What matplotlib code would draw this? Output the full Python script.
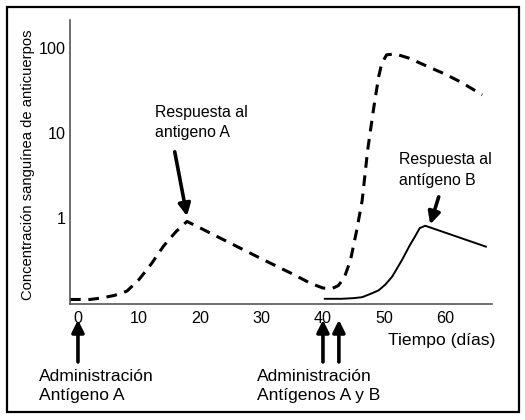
import numpy as np
import matplotlib
matplotlib.use("Agg")
import matplotlib.pyplot as plt
from matplotlib.patches import Rectangle

plt.rcParams['font.family'] = ['Liberation Sans', 'DejaVu Sans']

# respuesta al antigeno A (linea discontinua)
dias_a = [-1.3, 0, 2, 4, 6, 8, 10, 12, 14, 16, 17.8, 20, 25, 30, 35, 38, 40,
          41.5, 42.5, 43.5, 44.5, 45.5, 46.4, 47.3, 48.3, 49.1, 49.6, 50.4,
          51.8, 54, 57.2, 60, 62.7, 66]
conc_a = [0.11, 0.11, 0.11, 0.115, 0.123, 0.138, 0.19, 0.29, 0.47, 0.69, 0.91,
          0.76, 0.50, 0.33, 0.22, 0.17, 0.15, 0.148, 0.16, 0.2, 0.32, 0.71,
          1.6, 6.3, 20, 46, 66, 83, 85, 76, 60, 49, 39, 28]

# respuesta al antigeno B (linea continua)
dias_b = [40.3, 43, 45, 46.4, 48, 49.1, 50.2, 51.3, 52.9, 54.2, 55, 55.8,
          56.7, 66.6]
conc_b = [0.112, 0.112, 0.114, 0.117, 0.13, 0.141, 0.165, 0.204, 0.32, 0.48,
          0.60, 0.76, 0.81, 0.46]

xticks = [0, 10, 20, 30, 40, 50, 60]
yticks = [1, 10, 100]
dias_admin = [0, 40, 42.6]

fig = plt.figure(figsize=(5.25, 4.2), dpi=100)
ax = fig.add_axes([70/525, 1-304/420, (492-70)/525, (304-20)/420])

ax.plot(dias_a, conc_a, color='black', lw=2.2, linestyle=(0, (3.5, 2.5)))
ax.plot(dias_b, conc_b, color='black', lw=1.4)

ax.set_yscale('log')
ax.set_xlim(-1.3, 67.6)
ax.set_ylim(0.0973, 213)
ax.set_xticks(xticks)
ax.set_xticklabels([str(t) for t in xticks])
ax.set_yticks(yticks)
ax.set_yticklabels([str(t) for t in yticks])
ax.minorticks_off()
ax.tick_params(axis='x', length=0, pad=5, labelsize=11.6)
ax.tick_params(axis='y', length=0, pad=3, labelsize=11.6)
for s in ['top', 'right']:
    ax.spines[s].set_visible(False)
for s in ['left', 'bottom']:
    ax.spines[s].set_color('#555555')
    ax.spines[s].set_linewidth(1.2)

flecha = dict(arrowstyle='-|>', lw=2.6, color='black', mutation_scale=18,
              shrinkA=0, shrinkB=0)

ax.annotate('', xy=(17.8, 1.05), xytext=(15.8, 6.0), arrowprops=flecha)
ax.text(12.6, 13.3, 'Respuesta al\nantigeno A', fontsize=11.4, va='center',
        ha='left', linespacing=1.45)
ax.annotate('', xy=(57.5, 0.84), xytext=(58.9, 1.77), arrowprops=flecha)
ax.text(52.4, 3.67, 'Respuesta al\nantígeno B', fontsize=11.4, va='center',
        ha='left', linespacing=1.45)

trans = ax.get_xaxis_transform()
for d in dias_admin:
    ax.annotate('', xy=(d, -0.056), xytext=(d, -0.204), xycoords=trans,
                textcoords=trans, arrowprops=flecha, annotation_clip=False)

fig.text(39/525, 1-386/420, 'Administración\nAntígeno A', fontsize=12.6,
         va='center', ha='left', linespacing=1.3)
fig.text(257/525, 1-386/420, 'Administración\nAntígenos A y B', fontsize=12.6,
         va='center', ha='left', linespacing=1.3)
fig.text(388/525, 1-340/420, 'Tiempo (días)', fontsize=12.6, va='center',
         ha='left')
fig.text(28/525, 1-165/420, 'Concentración sanguínea de anticuerpos',
         fontsize=10.6, rotation=90, va='center', ha='center')

fig.patches.append(Rectangle((7/525, 1-412/420), (519-7)/525, (412-7)/420,
                             transform=fig.transFigure, fill=False,
                             edgecolor='black', lw=1.6))

fig.savefig('out.png', dpi=100)
